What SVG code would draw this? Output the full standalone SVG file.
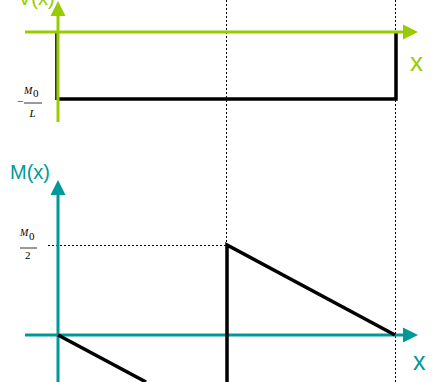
<svg xmlns="http://www.w3.org/2000/svg" width="433" height="382" viewBox="0 0 433 382">
<style>
.g{stroke:#99CC00;stroke-width:3;fill:none}
.t{stroke:#009999;stroke-width:3;fill:none}
.k{stroke:#000;stroke-width:3.5;fill:none}
.d{stroke:#000;stroke-width:1;stroke-dasharray:2,2;fill:none}
.lg{font-family:"Liberation Sans",Arial,sans-serif;fill:#99CC00}
.lt{font-family:"Liberation Sans",Arial,sans-serif;fill:#009999}
.f{font-family:"Liberation Serif","Times New Roman",serif;fill:#000}
</style>
<defs>
<marker id="ag" markerUnits="userSpaceOnUse" markerWidth="16" markerHeight="16" refX="1" refY="8" orient="auto"><path d="M0,0.5 L15,8 L0,15.5 z" fill="#99CC00"/></marker>
<marker id="at" markerUnits="userSpaceOnUse" markerWidth="16" markerHeight="16" refX="1" refY="8" orient="auto"><path d="M0,0.5 L15,8 L0,15.5 z" fill="#009999"/></marker>
</defs>
<g id="guides">
<line class="d" x1="226.5" y1="0" x2="226.5" y2="245"/>
<line class="d" x1="395.5" y1="0" x2="395.5" y2="382"/>
<line class="d" x1="48" y1="245.5" x2="226" y2="245.5"/>
</g>
<g id="shear-plot">
<line x1="56" y1="32" x2="56" y2="100" stroke="#333" stroke-width="2"/>
<polyline class="k" points="57,99 396,99 396,32"/>
<line class="g" x1="58" y1="122" x2="58" y2="15" marker-end="url(#ag)"/>
<line class="g" x1="25" y1="32" x2="404" y2="32" marker-end="url(#ag)"/>
<text class="lg" x="18" y="5" font-size="20">V(x)</text>
<text class="lg" x="410" y="71" font-size="26">x</text>
<g id="label-m0l">
<text class="f" x="17" y="105" font-size="11">−</text>
<text class="f" x="24" y="94" font-size="10" font-style="italic">M</text>
<text class="f" x="33" y="97" font-size="11">0</text>
<line x1="24" y1="103" x2="42" y2="103" stroke="#000" stroke-width="0.8"/>
<text class="f" x="29.5" y="117" font-size="11" font-style="italic">L</text>
</g>
</g>
<g id="moment-plot">
<line class="t" x1="58" y1="382" x2="58" y2="194" marker-end="url(#at)"/>
<line class="t" x1="25" y1="335" x2="404" y2="335" marker-end="url(#at)"/>
<polyline class="k" points="58,335 146,382"/>
<polyline class="k" points="227,382 227,245 395,335"/>
<text class="lt" x="10" y="179" font-size="20">M(x)</text>
<text class="lt" x="413" y="370" font-size="25">x</text>
<g id="label-m02">
<text class="f" x="20" y="236" font-size="10" font-style="italic">M</text>
<text class="f" x="29" y="240" font-size="11">0</text>
<line x1="20" y1="248" x2="37" y2="248" stroke="#000" stroke-width="0.8"/>
<text class="f" x="25" y="259" font-size="11">2</text>
</g>
</g>
</svg>
